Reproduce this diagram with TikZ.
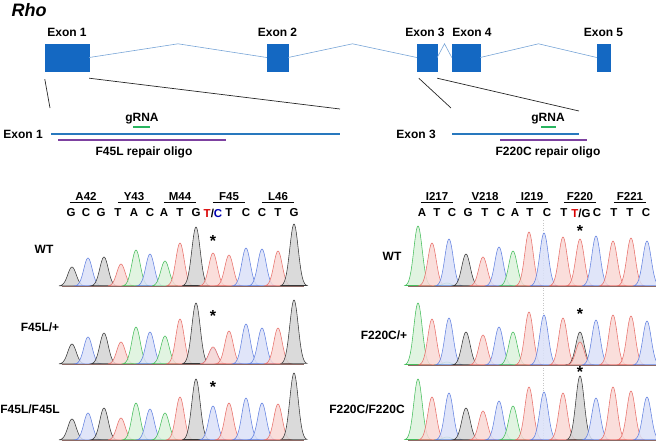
\documentclass[tikz,border=0pt]{standalone}
\usepackage{fontspec}
\setmainfont{Liberation Sans}
\usetikzlibrary{positioning,calc}

\definecolor{exonblue}{RGB}{20,104,194}
\definecolor{intronblue}{RGB}{120,165,215}
\definecolor{lineblue}{RGB}{40,120,190}
\definecolor{oligopurple}{RGB}{125,65,160}
\definecolor{grnagreen}{RGB}{40,180,95}
\definecolor{gyln}{RGB}{55,55,55}
\definecolor{gyfl}{RGB}{212,212,212}
\definecolor{rdln}{RGB}{232,112,106}
\definecolor{rdfl}{RGB}{249,216,213}
\definecolor{blln}{RGB}{100,130,225}
\definecolor{blfl}{RGB}{218,225,248}
\definecolor{gnln}{RGB}{70,190,92}
\definecolor{gnfl}{RGB}{220,242,220}
\definecolor{baseclr}{RGB}{140,105,100}

% one trace peak: x, top, baseline, colour
\newcommand{\peak}[4]{%
  \filldraw[draw=#4ln, fill=#4fl, fill opacity=0.85, line width=0.55pt]
    plot[domain=-13:13, samples=35] ({#1+\x}, {#3-(#3-#2)*exp(-0.5*(\x/4.2)*(\x/4.2))}) -- cycle;
}

\begin{document}
\begin{tikzpicture}[x=1pt, y=-1pt, font=\fontsize{12}{14}\selectfont\bfseries]
  \tikzstyle{exonbox}=[rectangle, draw=exonblue, fill=exonblue, minimum height=27pt, inner sep=0pt]
  \tikzstyle{lbl}=[inner sep=0pt]
  \tikzstyle{intron}=[draw=intronblue, line width=0.6pt]
  \tikzstyle{zoomline}=[draw=black!85, line width=0.7pt]
  \tikzstyle{codon}=[inner sep=0pt, minimum width=32pt, font=\fontsize{11.5}{13}\selectfont\bfseries]
  \tikzstyle{nuc}=[inner sep=0pt, font=\fontsize{11.5}{13}\selectfont\bfseries]
  \tikzstyle{starmark}=[inner sep=0pt, anchor=north, font=\fontsize{16}{17}\selectfont\bfseries]
  \tikzstyle{baseln}=[draw=baseclr, line width=0.6pt]

  \useasboundingbox (0,0) rectangle (656,442);

  \node[lbl, font=\fontsize{18}{20}\selectfont\bfseries\itshape] (title) at (29,10) {Rho};

  % Gene model
  \node[exonbox, minimum width=44pt] (ex1) at (67,57.5) {};
  \node[exonbox, minimum width=21pt] (ex2) at (277.5,57.5) {};
  \node[exonbox, minimum width=20pt] (ex3) at (427,57.5) {};
  \node[exonbox, minimum width=28pt] (ex4) at (466,57.5) {};
  \node[exonbox, minimum width=13pt] (ex5) at (603.5,57.5) {};

  \node[lbl, above=7pt of ex1] (ex1lbl) {Exon 1};
  \node[lbl, above=7pt of ex2] (ex2lbl) {Exon 2};
  \node[lbl, above=7pt of ex3, xshift=-2pt] (ex3lbl) {Exon 3};
  \node[lbl, above=7pt of ex4, xshift=6pt] (ex4lbl) {Exon 4};
  \node[lbl, above=7pt of ex5] (ex5lbl) {Exon 5};

  \draw[intron] (ex1.east) -- ($(ex1.north east)!0.5!(ex2.north west)$) -- (ex2.west);
  \draw[intron] (ex2.east) -- ($(ex2.north east)!0.5!(ex3.north west)$) -- (ex3.west);
  \draw[intron] (ex3.east) -- ($(ex3.north east)!0.5!(ex4.north west)$) -- (ex4.west);
  \draw[intron] (ex4.east) -- ($(ex4.north east)!0.5!(ex5.north west)$) -- (ex5.west);

  % Zoomed exons
  \coordinate (z1a) at (50,108);
  \coordinate (z1b) at (340,109);
  \coordinate (z3a) at (451,108);
  \coordinate (z3b) at (579,111);
  \draw[zoomline] ([yshift=-8pt]ex1.south west) -- (z1a);
  \draw[zoomline] ([yshift=-7pt]ex1.south east) -- (z1b);
  \draw[zoomline] ([shift={(2pt,-7pt)}]ex3.south west) -- (z3a);
  \draw[zoomline] ([yshift=-7pt]ex3.south east) -- (z3b);

  \coordinate (l1a) at (51,134);
  \coordinate (l1b) at (340,134);
  \coordinate (l3a) at (452,134);
  \coordinate (l3b) at (579,134);
  \draw[lineblue, line width=1.5pt] (l1a) -- (l1b);
  \draw[lineblue, line width=1.5pt] (l3a) -- (l3b);
  \node[lbl, left=8pt of l1a] (x1lbl) {Exon 1};
  \node[lbl, left=16pt of l3a] (x3lbl) {Exon 3};

  \draw[grnagreen, line width=1.5pt] (133,127) -- (150,127);
  \draw[grnagreen, line width=1.5pt] (541,127) -- (556,127);
  \node[lbl, anchor=base] (g1lbl) at (142,121) {gRNA};
  \node[lbl, anchor=base] (g3lbl) at (548,121) {gRNA};

  \draw[oligopurple, line width=1.5pt] (58,140) -- (226,140);
  \draw[oligopurple, line width=1.5pt] (500,140) -- (587,140);
  \node[lbl, anchor=base] (o1lbl) at (144,155) {F45L repair oligo};
  \node[lbl, anchor=base] (o3lbl) at (548,155) {F220C repair oligo};

  % Codons and bases
  \foreach \cx/\cn/\cname in {86/A42/a42, 134/Y43/y43, 180/M44/m44, 229/F45/f45, 278/L46/l46,
      437/I217/i217, 485/V218/v218, 532/I219/i219, 580/F220/f220, 630/F221/f221} {
    \node[codon] (\cname) at (\cx,196.5) {\cn};
    \draw[line width=0.8pt] ([yshift=-1.8pt]\cname.south west) -- ([yshift=-1.8pt]\cname.south east);
  }
  \foreach \nx/\nb in {71/G, 86/C, 101/G, 118/T, 134/A, 150/C, 164/A, 180/T, 196/G, 229/T, 246/C, 262/C, 278/T, 294/G,
      422/A, 437/T, 452/C, 468/G, 485/T, 501/C, 515/A, 530/T, 547/C, 564/T, 597/C, 614/T, 630/T, 646/C} {
    \node[nuc] (n\nx) at (\nx,213) {\nb};
  }
  \node[nuc] (n213) at (213,213) {\textcolor{red!85!black}{T}/\textcolor{blue!70!black}{C}};
  \node[nuc] (n581) at (581,213) {\textcolor{red!85!black}{T}/G};

  \draw[gray!45, dotted, line width=0.5pt] (543,220) -- (543,442);

  % Left traces
  \foreach \px/\pt/\pc in {72/267/gy, 88/258/bl, 104/257/gy, 121/264/rd, 136/250/gn, 150/254/bl, 165/261/gn,
      180/243/rd, 196/227/gy, 213/253/rd, 229/255/rd, 246/248/bl, 262/249/bl, 278/251/rd, 294/224/gy}
    {\peak{\px}{\pt}{286}{\pc}}
  \foreach \px/\pt/\pc in {72/344/gy, 88/337/bl, 104/333/gy, 121/342/rd, 136/327/gn, 150/332/bl, 165/336/gn,
      180/319/rd, 196/303/gy, 213/348/bl, 213/347/rd, 229/331/rd, 246/324/bl, 262/328/bl, 278/328/rd, 294/300/gy}
    {\peak{\px}{\pt}{364}{\pc}}
  \foreach \px/\pt/\pc in {72/419/gy, 88/413/bl, 104/408/gy, 121/418/rd, 136/403/gn, 150/409/bl, 165/413/gn,
      180/397/rd, 196/379/gy, 213/406/bl, 229/403/rd, 246/398/bl, 262/403/bl, 278/404/rd, 294/373/gy}
    {\peak{\px}{\pt}{440}{\pc}}
  \draw[baseln] (62,286) -- (304,286);
  \draw[baseln] (62,364) -- (304,364);
  \draw[baseln] (62,440) -- (304,440);

  % Right traces
  \foreach \px/\pt/\pc in {418/226/gn, 432/243/rd, 447/283/gn, 449/239/bl, 466/254/gy, 483/257/rd, 499/247/bl, 513/251/gn,
      529/232/rd, 544/233/bl, 563/237/rd, 580/239/rd, 596/236/bl, 613/241/rd, 631/238/rd, 647/241/bl}
    {\peak{\px}{\pt}{286}{\pc}}
  \foreach \px/\pt/\pc in {418/303/gn, 432/319/rd, 447/362/gn, 449/318/bl, 466/332/gy, 483/335/rd, 499/327/bl, 513/332/gn,
      529/312/rd, 544/315/bl, 563/318/rd, 580/332/gy, 580/342/rd, 596/320/bl, 613/315/rd, 631/316/rd, 647/321/bl}
    {\peak{\px}{\pt}{365}{\pc}}
  \foreach \px/\pt/\pc in {418/379/gn, 432/397/rd, 447/437/gn, 449/393/bl, 466/408/gy, 483/411/rd, 499/401/bl, 513/406/gn,
      529/387/rd, 544/392/bl, 563/393/rd, 580/376/gy, 596/398/bl, 613/387/rd, 631/391/rd, 647/397/bl}
    {\peak{\px}{\pt}{440}{\pc}}
  \draw[baseln] (408,286) -- (656,286);
  \draw[baseln] (408,365) -- (656,365);
  \draw[baseln] (408,440) -- (656,440);

  % Asterisks
  \node[starmark] (s1) at (213,235) {*};
  \node[starmark] (s2) at (213,310) {*};
  \node[starmark] (s3) at (213,381) {*};
  \node[starmark] (s4) at (580,225) {*};
  \node[starmark] (s5) at (580,308) {*};
  \node[starmark] (s6) at (580,366) {*};

  % Genotypes
  \node[lbl] (wt1) at (44,249) {WT};
  \node[lbl] (het1) at (40,327) {F45L/+};
  \node[lbl] (hom1) at (30,409) {F45L/F45L};
  \node[lbl] (wt3) at (392,256) {WT};
  \node[lbl] (het3) at (384,335) {F220C/+};
  \node[lbl] (hom3) at (367,409) {F220C/F220C};
\end{tikzpicture}
\end{document}
